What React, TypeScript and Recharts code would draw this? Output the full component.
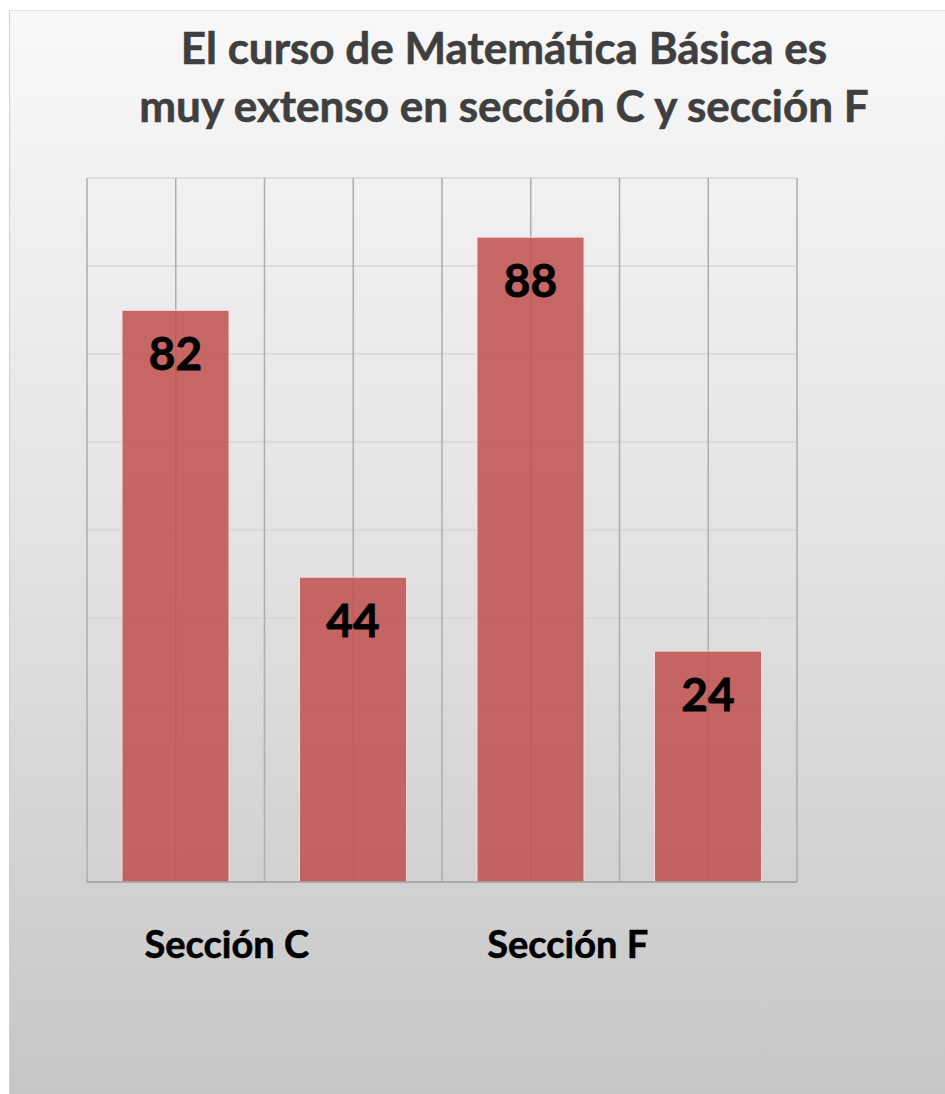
import { BarChart, Bar, XAxis, YAxis, CartesianGrid, LabelList } from 'recharts';

const groups = ['Sección C', 'Sección C', 'Sección F', 'Sección F'];
// bar heights as drawn (on a 0-100 scale) and the numbers printed on them
const barHeights = [81.2, 43.3, 91.6, 32.8];
const barLabels = [82, 44, 88, 24];
const yTicks = [0, 12.5, 25, 37.5, 50, 62.5, 75, 87.5, 100];
const gridTicks = [0, 1, 2, 3, 4, 5, 6, 7, 8];

const data = groups.map((g, i) => ({
  group: g,
  value: barHeights[i],
  label: barLabels[i],
}));

const FONT = 'Lato, "Open Sans", sans-serif';

function GroupTick(props: any) {
  const { x, y, payload, index } = props;
  if (index % 2 !== 0) return null;
  const shift = index === 0 ? 51 : 37;
  return (
    <text
      x={x + shift}
      y={y + 76}
      textAnchor="middle"
      fontFamily={FONT}
      fontWeight={700}
      fontSize={38}
      fill="#000"
      stroke="#000"
      strokeWidth={0.6}
    >
      {payload.value}
    </text>
  );
}

export default function App() {
  return (
    <div
      style={{
        position: 'absolute',
        left: 9,
        top: 10,
        width: 936,
        height: 1084,
        borderLeft: '1px solid #cfcfcf',
        borderTop: '1px solid #e2e2e2',
        background: 'linear-gradient(180deg, #f8f8f8 0%, #e2e2e2 50%, #c6c6c6 100%)',
        overflow: 'hidden',
      }}
    >
      <div
        style={{
          position: 'absolute',
          left: 44,
          top: 7,
          width: 900,
          textAlign: 'center',
          fontFamily: FONT,
          fontWeight: 700,
          fontSize: 44,
          lineHeight: '58px',
          color: '#3f3f3f',
          WebkitTextStroke: '0.6px #3f3f3f',
        }}
      >
        El curso de Matemática Básica es
        <br />
        muy extenso en sección C y sección F
      </div>
      <div style={{ position: 'absolute', left: 0, top: 0 }}>
        <BarChart
          width={935}
          height={1000}
          data={data}
          margin={{ top: 167, left: 77, right: 148, bottom: 69 }}
        >
          <CartesianGrid vertical={false} stroke="#d6d6d6" strokeWidth={1.5} />
          <CartesianGrid
            horizontal={false}
            stroke="#adadad"
            strokeWidth={1.5}
            verticalCoordinatesGenerator={({ offset }: any) =>
              gridTicks.map((t) => offset.left + (t / 8) * offset.width)
            }
          />
          <XAxis
            dataKey="group"
            height={60}
            tickLine={false}
            tickSize={0}
            tickMargin={0}
            axisLine={{ stroke: '#9a9a9a', strokeWidth: 1.5 }}
            tick={<GroupTick />}
            interval={0}
          />
          <YAxis domain={[0, 100]} ticks={yTicks} hide />
          <Bar
            dataKey="value"
            barSize={107}
            fill="#c0504d"
            fillOpacity={0.85}
            stroke="#f3dede"
            strokeWidth={1}
            isAnimationActive={false}
          >
            <LabelList
              dataKey="label"
              position="insideTop"
              offset={27}
              fill="#000"
              stroke="#000"
              strokeWidth={0.8}
              fontFamily={FONT}
              fontWeight={700}
              fontSize={46}
            />
          </Bar>
        </BarChart>
      </div>
    </div>
  );
}
